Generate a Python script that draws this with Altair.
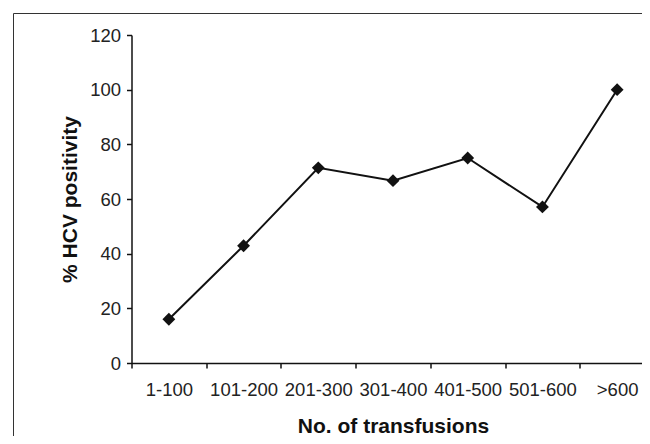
import altair as alt
import pandas as pd

categories = ["1-100", "101-200", "201-300", "301-400", "401-500", "501-600", ">600"]
hcv_positivity = [16.0, 42.9, 71.4, 66.7, 75.0, 57.1, 100.0]
y_ticks = [0, 20, 40, 60, 80, 100, 120]

df = pd.DataFrame({"transfusions": categories, "pct": hcv_positivity})

FONT = "Liberation Sans"
W = 523
H = 328
PAD_L = 123.5
PAD_T = 27
TOTAL_W = 634
TOTAL_H = 428

x_enc = alt.X(
    "transfusions:N",
    sort=categories,
    bandPosition=0.5,
    scale=alt.Scale(type="band", paddingInner=0, paddingOuter=0),
    axis=alt.Axis(
        title="No. of transfusions",
        labelAngle=0,
        tickBand="extent",
        tickSize=5,
        labelPadding=12,
        titlePadding=17,
        labelFontSize=18.5,
        titleFontSize=21,
    ),
)
y_enc = alt.Y(
    "pct:Q",
    scale=alt.Scale(domain=[0, 120]),
    axis=alt.Axis(
        title="% HCV  positivity",
        values=y_ticks,
        tickSize=5,
        labelPadding=6,
        titlePadding=9,
        labelFontSize=18.5,
        titleFontSize=21,
        grid=False,
    ),
)

base = alt.Chart(df)
line = base.mark_line(color="#111111", strokeWidth=2).encode(x=x_enc, y=y_enc)
points = base.mark_point(shape="diamond", filled=True, size=165, color="#111111", opacity=1).encode(
    x=x_enc, y=y_enc
)

frame = alt.Data(values=[{"a": 1}])
left_border = alt.Chart(frame).mark_rule(stroke="#333333", strokeWidth=1).encode(
    x=alt.value(-118), y=alt.value(-21.5), y2=alt.value(420)
)
top_border = alt.Chart(frame).mark_rule(stroke="#333333", strokeWidth=1).encode(
    x=alt.value(-118), x2=alt.value(W), y=alt.value(-21.5)
)

chart = (
    alt.layer(left_border, top_border, line, points)
    .properties(
        width=W,
        height=H,
        autosize=alt.AutoSizeParams(type="none"),
        padding={
            "left": PAD_L,
            "top": PAD_T,
            "right": TOTAL_W - PAD_L - W,
            "bottom": TOTAL_H - PAD_T - H,
        },
    )
    .configure_view(stroke=None)
    .configure_axis(
        domainColor="#111111",
        domainWidth=1.5,
        tickColor="#111111",
        tickWidth=1.5,
        labelColor="#222222",
        titleColor="#111111",
        labelFont=FONT,
        titleFont=FONT,
        titleFontWeight="bold",
        grid=False,
    )
)

chart.save("out.html", embed_options={"renderer": "svg", "actions": False})
